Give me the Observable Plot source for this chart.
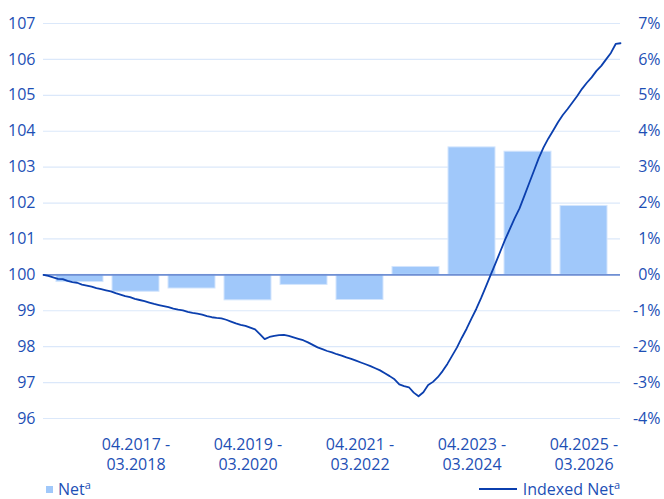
<!DOCTYPE html>
<html>
<head>
<meta charset="utf-8">
<script src="https://cdn.jsdelivr.net/npm/d3@7"></script>
<script src="https://cdn.jsdelivr.net/npm/@observablehq/plot@0.6"></script>
<style>
  html, body { margin: 0; padding: 0; background: #fff; }
  #wrap { width: 664px; font-family: "Open Sans", sans-serif; color: #1d4fb5; }
  #plots { position: relative; width: 664px; height: 474px; }
  #plots svg { position: absolute; left: 0; top: 0; }
  #legend { position: relative; width: 664px; height: 25px; }
  .item { position: absolute; top: 7px; font-size: 16px; line-height: 17px; color: #1d4fb5; white-space: nowrap; }
  .item sup { font-size: 11px; vertical-align: 0; position: relative; top: -6px; line-height: 0; }
  .sw-bar { display: inline-block; width: 7px; height: 7px; background: #a0c8fa; margin-right: 5px; vertical-align: 2px; }
  .sw-line { display: inline-block; width: 38px; height: 2px; background: #0b3fae; margin-right: 6px; vertical-align: 5px; }
</style>
</head>
<body>
<div id="wrap">
  <div id="plots"></div>
  <div id="legend"></div>
</div>
<script>
// ---- data ----
const periodStart = ["04.2016","04.2017","04.2018","04.2019","04.2020","04.2021","04.2022","04.2023","04.2024","04.2025"];
const periodEnd   = ["03.2017","03.2018","03.2019","03.2020","03.2021","03.2022","03.2023","03.2024","03.2025","03.2026"];
// Net change per period, in %
const netPct = [-0.2, -0.47, -0.38, -0.71, -0.28, -0.7, 0.22, 3.55, 3.43, 1.92];
// Indexed Net, monthly (start = 100)
const indexedNet = [
  100.00, 99.97, 99.93, 99.89, 99.88, 99.83, 99.80, 99.78, 99.73, 99.70,
  99.67, 99.63, 99.60, 99.57, 99.54, 99.49, 99.45, 99.41, 99.38, 99.33,
  99.30, 99.27, 99.23, 99.19, 99.16, 99.13, 99.10, 99.06, 99.03, 99.01,
  98.97, 98.94, 98.92, 98.89, 98.85, 98.82, 98.80, 98.79, 98.75, 98.70,
  98.65, 98.61, 98.58, 98.53, 98.48, 98.35, 98.21, 98.27, 98.30, 98.32,
  98.33, 98.30, 98.26, 98.22, 98.18, 98.12, 98.05, 97.98, 97.93, 97.88,
  97.84, 97.79, 97.75, 97.70, 97.66, 97.61, 97.56, 97.51, 97.46, 97.40,
  97.34, 97.26, 97.18, 97.09, 96.95, 96.90, 96.87, 96.72, 96.62, 96.73,
  96.93, 97.02, 97.15, 97.32, 97.52, 97.75, 97.98, 98.25, 98.50, 98.78,
  99.05, 99.35, 99.67, 100.00, 100.32, 100.65, 100.98, 101.28, 101.58, 101.85,
  102.20, 102.55, 102.90, 103.25, 103.55, 103.80, 104.02, 104.25, 104.45, 104.62,
  104.80, 104.98, 105.18, 105.35, 105.50, 105.68, 105.82, 106.00, 106.18, 106.43,
  106.45
];
const leftTicks = [96, 97, 98, 99, 100, 101, 102, 103, 104, 105, 106, 107];
const labelledPeriods = [1, 3, 5, 7, 9];

// ---- derived tables ----
const periods = periodStart.map((s, i) => s + " - " + periodEnd[i]);
const bars = periods.map((p, i) => ({period: p, pct: netPct[i]}));
const lineData = indexedNet.map((v, i) => ({m: i, v}));

const W = 664, H = 474;
const M = {marginLeft: 43, marginRight: 44, marginTop: 23, marginBottom: 56};
const txt = "#1d4fb5";
const style = {fontSize: "16px", fontFamily: "Open Sans, sans-serif", color: txt, background: "transparent", overflow: "visible"};

const base = Plot.plot({
  width: W, height: H, ...M, style,
  x: {type: "band", domain: periods, paddingInner: 0.168, paddingOuter: 0.158, axis: null, label: null},
  y: {domain: [96, 107], axis: null, label: null},
  marks: [
    Plot.gridY(leftTicks, {stroke: "#dbe8fa", strokeOpacity: 1, strokeWidth: 1.2}),
    Plot.barY(bars, {x: "period", y1: () => 100, y2: d => 100 + d.pct, fill: "#a0c8fa", stroke: "#d3e5fd", strokeWidth: 1}),
    Plot.ruleY([100], {stroke: "#6f8fd3", strokeWidth: 1.6}),
    Plot.axisY(leftTicks, {anchor: "left", tickSize: 0, tickPadding: 8, fill: txt, label: null}),
    Plot.axisY(leftTicks, {anchor: "right", tickSize: 0, tickPadding: 40, textAnchor: "end", fill: txt, label: null,
      tickFormat: d => (d - 100) + "%"}),
    Plot.axisX(labelledPeriods.map(i => periods[i]), {anchor: "bottom", tickSize: 0, tickPadding: 17, lineHeight: 1.25, fill: txt, label: null,
      tickFormat: p => { const i = periods.indexOf(p); return periodStart[i] + " -\n" + periodEnd[i]; }})
  ]
});

const overlay = Plot.plot({
  width: W, height: H, ...M, style,
  x: {domain: [0, indexedNet.length - 1], axis: null},
  y: {domain: [96, 107], axis: null},
  marks: [
    Plot.lineY(lineData, {x: "m", y: "v", stroke: "#0b3fae", strokeWidth: 1.8, strokeLinejoin: "round"})
  ]
});

const plots = document.getElementById("plots");
plots.appendChild(base);
plots.appendChild(overlay);

const legend = document.getElementById("legend");
const l1 = document.createElement("div");
l1.className = "item";
l1.style.left = "46px";
l1.innerHTML = '<span class="sw-bar"></span>Net<sup>a</sup>';
legend.appendChild(l1);

const l2 = document.createElement("div");
l2.className = "item";
l2.style.right = "44px";
l2.innerHTML = '<span class="sw-line"></span>Indexed Net<sup>a</sup>';
legend.appendChild(l2);
</script>
</body>
</html>
